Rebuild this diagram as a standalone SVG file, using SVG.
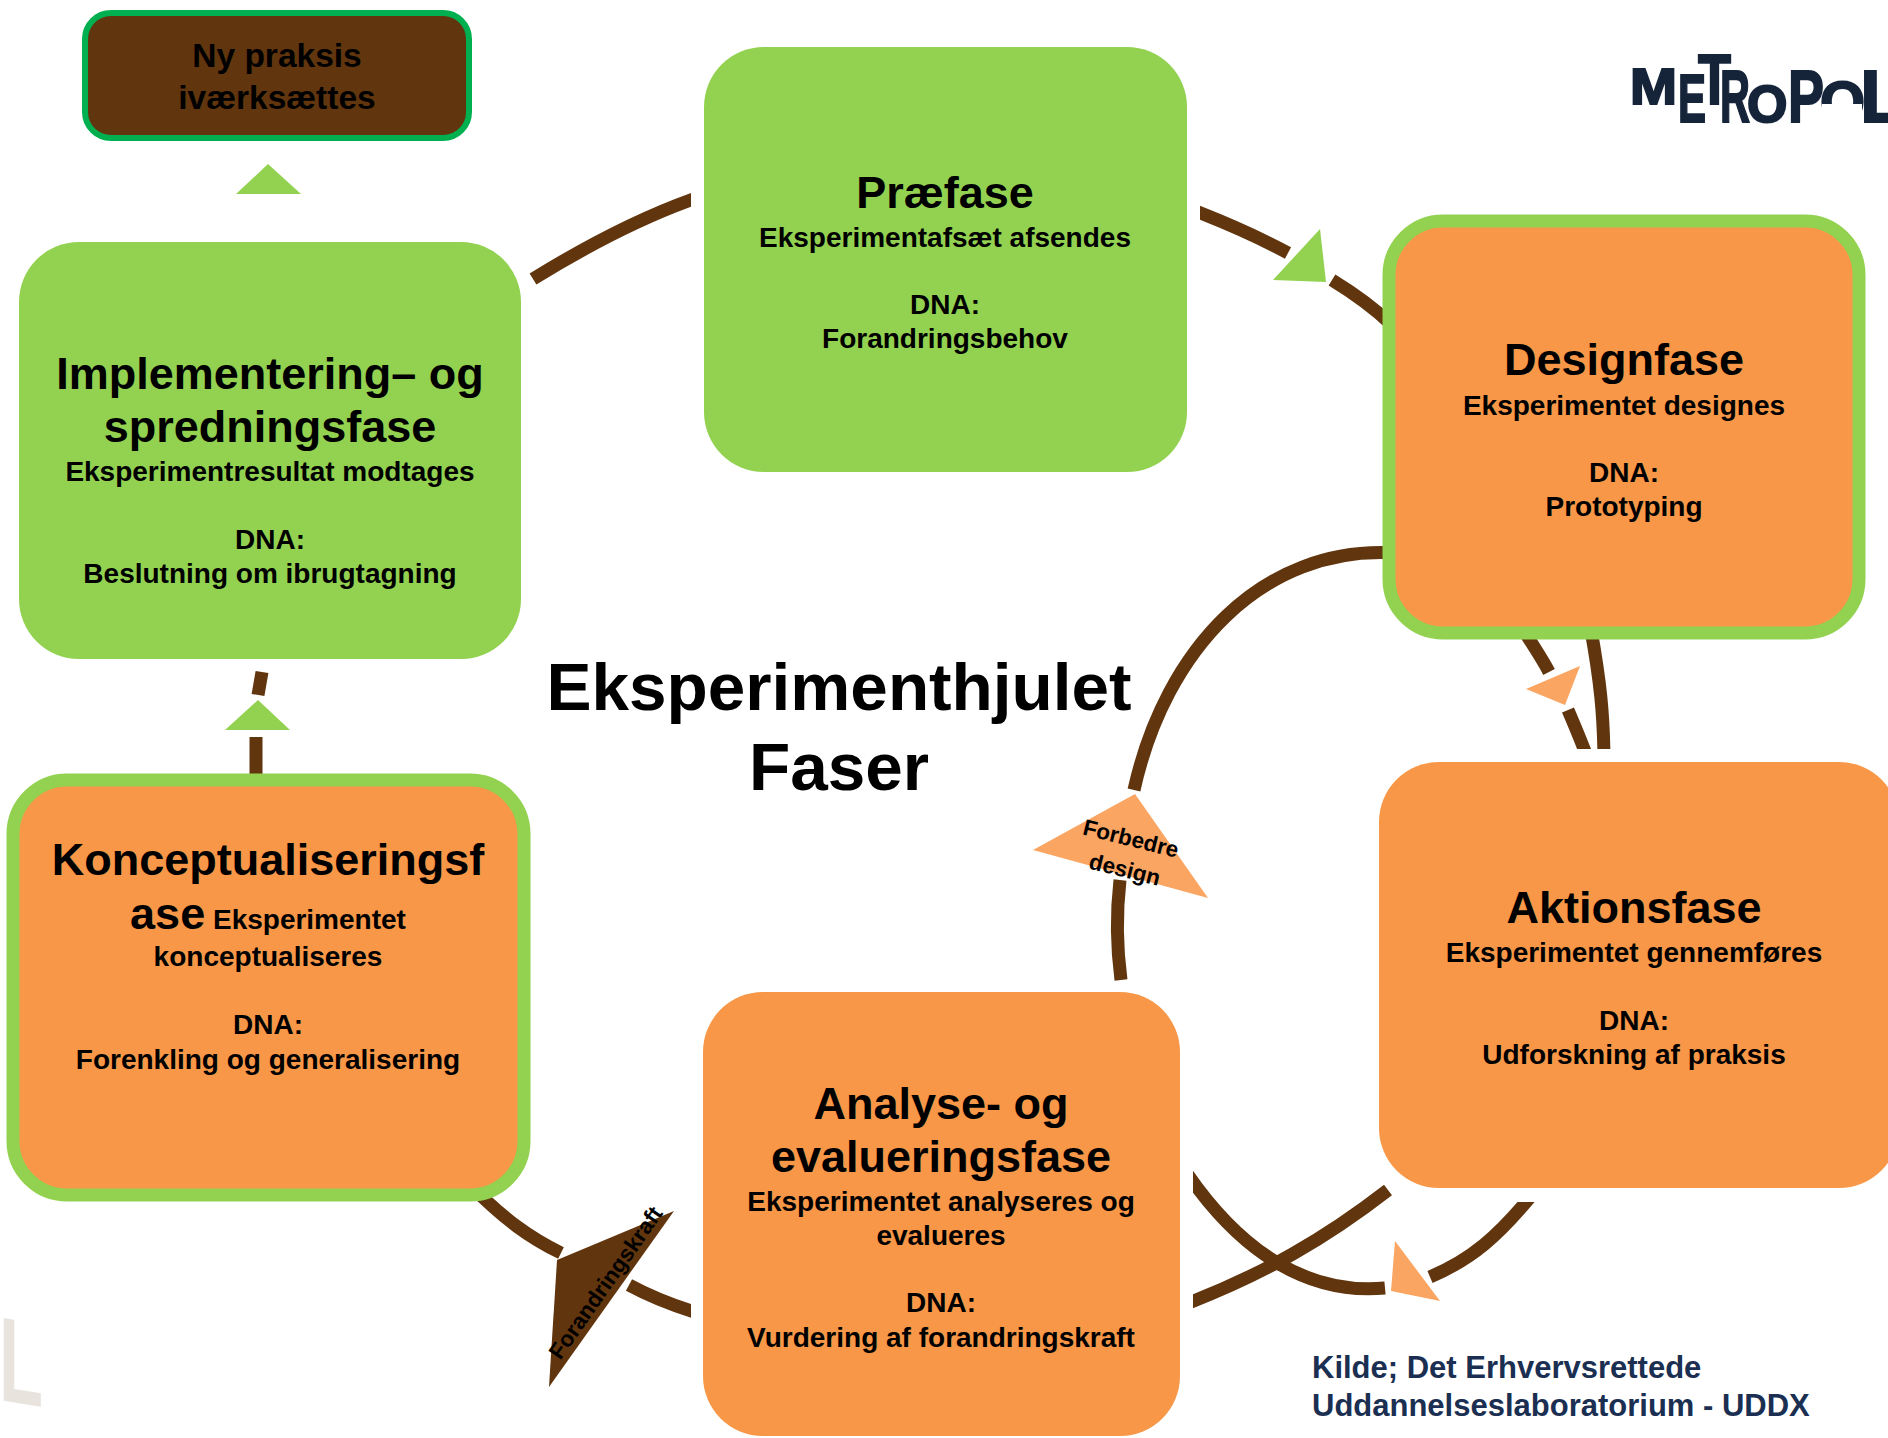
<svg xmlns="http://www.w3.org/2000/svg" width="1888" height="1438" viewBox="0 0 1888 1438">
<defs><style>
text{font-family:"Liberation Sans",Arial,sans-serif;font-weight:700;fill:#000;text-anchor:middle}
.g{fill:#92D250}.o{fill:#F79747}.lo{fill:#FAA562}.br{fill:#61350D}
.c{fill:none;stroke:#61350D;stroke-width:13}
.h{font-size:45px}.s{font-size:28px}
</style>
<clipPath id="logoClip"><path d="M1620 40H1822V130H1620ZM1822 40H1862V104H1822ZM1862 40H1888V130H1862Z"/></clipPath>
<clipPath id="cr"><rect x="1193" y="1100" width="400" height="300"/></clipPath>
<clipPath id="cu"><rect x="1500" y="620" width="200" height="129"/></clipPath>
<clipPath id="cd"><rect x="1400" y="1202" width="200" height="120"/></clipPath>
<clipPath id="cl"><rect x="500" y="150" width="191" height="1200"/></clipPath>
<clipPath id="cm"><rect x="1200" y="150" width="200" height="200"/></clipPath>
</defs>
<rect width="1888" height="1438" fill="#fff"/>
<g id="connectors">
<path class="c" clip-path="url(#cl)" d="M705 195C645 215 580 250 533 279"/>
<path class="c" clip-path="url(#cm)" d="M1185 207C1235 226 1260 238 1288 253"/>
<path class="c" d="M1332 280C1350 291 1372 306 1392 325"/>
<path class="c" d="M1520 625C1535 648 1543 660 1549 672"/>
<path class="c" clip-path="url(#cu)" d="M1568 710C1574 724 1583 745 1590 765"/>
<path class="c" clip-path="url(#cu)" d="M1591 630C1600 680 1604 715 1604 765"/>
<path class="c" d="M1395 553C1262 545 1165 650 1134 790"/>
<path class="c" d="M1120 880C1116 915 1117 950 1121 980"/>
<path class="c" clip-path="url(#cr)" d="M1180 1163C1240 1255 1310 1295 1385 1288"/>
<path class="c" d="M1388 1190C1330 1235 1265 1275 1175 1308" clip-path="url(#cr)"/>
<path class="c" clip-path="url(#cd)" d="M1540 1185C1498 1238 1470 1260 1430 1277"/>
<path class="c" d="M470 1185C505 1220 530 1238 561 1253"/>
<path class="c" clip-path="url(#cl)" d="M629 1285C655 1299 680 1308 705 1315"/>
<path class="c" d="M262 672L258 695"/>
<path class="c" d="M256 737L256 780"/>
<polygon class="g" points="268,164 236,194 301,194"/>
<polygon class="g" points="258,700 225,730 290,730"/>
<polygon class="g" points="1320,229 1273,280 1326,282"/>
<polygon class="lo" points="1580,666 1526,689 1565,705"/>
<polygon class="lo" points="1135,794 1033,850 1208,898"/>
<polygon class="lo" points="1395,1241 1391,1291 1440,1301"/>
<polygon class="br" points="674,1211 557,1260 549,1387"/>
<text font-size="22.5" transform="translate(1129 846) rotate(14)">Forbedre</text>
<text font-size="22.5" transform="translate(1123 877) rotate(14)">design</text>
<text font-size="22.5" transform="translate(612 1287) rotate(-55)">Forandringskraft</text>
</g>
<g id="node-ny">
<rect x="85" y="13" width="384" height="125" rx="26" fill="#61350D" stroke="#00B050" stroke-width="6"/>
<text x="277" y="67" font-size="33.5">Ny praksis</text>
<text x="277" y="109" font-size="33.5">iværksættes</text>
</g>
<g id="node-impl">
<rect class="g" x="19" y="242" width="502" height="417" rx="60"/>
<text class="h" x="270" y="389">Implementering– og</text>
<text class="h" x="270" y="442">spredningsfase</text>
<text class="s" x="270" y="481">Eksperimentresultat modtages</text>
<text class="s" x="270" y="549">DNA:</text>
<text class="s" x="270" y="583">Beslutning om ibrugtagning</text>
</g>
<g id="node-pre">
<rect class="g" x="704" y="47" width="483" height="425" rx="60"/>
<text class="h" x="945" y="208">Præfase</text>
<text class="s" x="945" y="247">Eksperimentafsæt afsendes</text>
<text class="s" x="945" y="314">DNA:</text>
<text class="s" x="945" y="348">Forandringsbehov</text>
</g>
<g id="node-design">
<rect class="o" x="1389" y="221" width="470" height="412" rx="54" stroke="#92D250" stroke-width="13"/>
<text class="h" x="1624" y="375">Designfase</text>
<text class="s" x="1624" y="415">Eksperimentet designes</text>
<text class="s" x="1624" y="482">DNA:</text>
<text class="s" x="1624" y="516">Prototyping</text>
</g>
<g id="node-aktion">
<rect class="o" x="1379" y="762" width="520" height="426" rx="60"/>
<text class="h" x="1634" y="923">Aktionsfase</text>
<text class="s" x="1634" y="962">Eksperimentet gennemføres</text>
<text class="s" x="1634" y="1030">DNA:</text>
<text class="s" x="1634" y="1064">Udforskning af praksis</text>
</g>
<g id="node-analyse">
<rect class="o" x="703" y="992" width="477" height="444" rx="60"/>
<text class="h" x="941" y="1119">Analyse- og</text>
<text class="h" x="941" y="1172">evalueringsfase</text>
<text class="s" x="941" y="1211">Eksperimentet analyseres og</text>
<text class="s" x="941" y="1245">evalueres</text>
<text class="s" x="941" y="1312">DNA:</text>
<text class="s" x="941" y="1347">Vurdering af forandringskraft</text>
</g>
<g id="node-koncept">
<rect class="o" x="13" y="780" width="511" height="415" rx="54" stroke="#92D250" stroke-width="13"/>
<text class="h" x="268" y="875">Konceptualiseringsf</text>
<text x="268" y="929"><tspan class="h">ase</tspan><tspan class="s"> Eksperimentet</tspan></text>
<text class="s" x="268" y="966">konceptualiseres</text>
<text class="s" x="268" y="1034">DNA:</text>
<text class="s" x="268" y="1069">Forenkling og generalisering</text>
</g>
<text x="839" y="710" font-size="67.5">Eksperimenthjulet</text>
<text x="839" y="790" font-size="67.5">Faser</text>
<text x="1312" y="1378" font-size="31" style="text-anchor:start;fill:#1B2F52">Kilde; Det Erhvervsrettede</text>
<text x="1312" y="1416" font-size="31" style="text-anchor:start;fill:#1B2F52">Uddannelseslaboratorium - UDDX</text>
<g id="logo" clip-path="url(#logoClip)">
<text style="text-anchor:start;fill:#16243A;stroke:#16243A;stroke-width:2"><tspan x="1630" y="104" font-size="50" textLength="47" lengthAdjust="spacingAndGlyphs">M</tspan><tspan x="1678" y="122" font-size="68" textLength="28" lengthAdjust="spacingAndGlyphs">E</tspan><tspan x="1698" y="104" font-size="70" textLength="33" lengthAdjust="spacingAndGlyphs">T</tspan><tspan x="1720" y="122" font-size="75" textLength="30" lengthAdjust="spacingAndGlyphs">R</tspan><tspan x="1747" y="122" font-size="52">O</tspan><tspan x="1788" y="122" font-size="75" textLength="36" lengthAdjust="spacingAndGlyphs">P</tspan><tspan x="1820" y="122" font-size="58">O</tspan><tspan x="1860" y="122" font-size="75">L</tspan></text>
</g>
<text transform="translate(-1 1400) skewY(9) scale(.6 1)" font-size="120" style="text-anchor:start;fill:#E8E4DD">L</text>
</svg>
